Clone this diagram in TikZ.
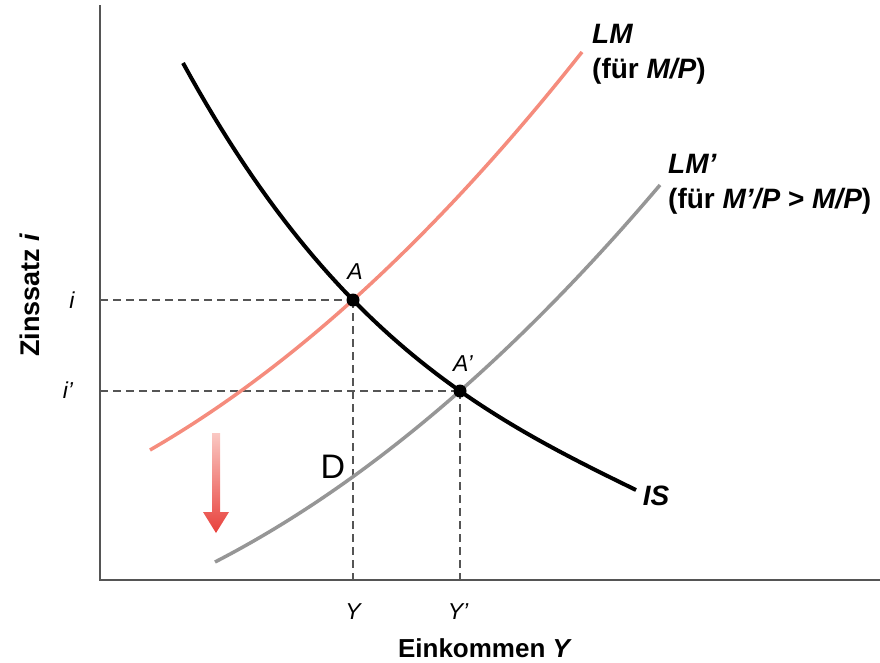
\documentclass[tikz,border=0pt]{standalone}
\usepackage{fontspec}
\setmainfont{Liberation Sans}
\usetikzlibrary{positioning}
\definecolor{lmred}{RGB}{245,140,125}
\definecolor{lmgray}{RGB}{150,150,150}
\definecolor{axisgray}{RGB}{85,85,85}
\definecolor{arrowtop}{RGB}{250,200,195}
\definecolor{arrowred}{RGB}{232,65,60}
\tikzset{
  axisline/.style={axisgray, line width=2pt},
  guide/.style={axisgray, dashed, dash pattern=on 8pt off 5pt, line width=1.4pt},
  pointlabel/.style={font=\fontsize{23}{25}\selectfont\itshape},
  curvelabel/.style={font=\fontsize{28}{35}\selectfont\bfseries, align=left, inner sep=0pt}
}
\begin{document}
\begin{tikzpicture}[x=1pt, y=-1pt]
    \useasboundingbox (0,0) rectangle (880,662);
    % Axes
    \coordinate (O) at (100,580);
    \draw[axisline] (100,5) -- (O) -- (880,580);
    % Equilibrium points
    \coordinate (A) at (353,300);
    \coordinate (A2) at (460,391);
    \foreach \p/\y in {A/300, A2/391}
        \draw[guide] (100,\y) -- (\p);
    \foreach \p/\x in {A/353, A2/460}
        \draw[guide] (\p) -- (\x,580);
    % LM curves
    \draw[lmred, line width=3.5pt] plot[domain=150:582, samples=60]
        (\x, {450-0.73892*(\x-150)-7.9642*((\x-150)/100)*((\x-353)/100)});
    \draw[lmgray, line width=3.5pt] plot[domain=215:660, samples=60]
        (\x, {562-0.69796*(\x-215)-7.4616*((\x-215)/100)*((\x-460)/100)});
    % IS curve
    \draw[black, line width=4pt] plot[domain=183:636, samples=60]
        (\x, {63+1.39412*(\x-183)-19.626*((\x-183)/100)*((\x-353)/100)+2.086*((\x-183)/100)*((\x-353)/100)*((\x-460)/100)});
    \fill (A) circle (6.5) (A2) circle (6.5);
    % Shift of LM
    \shade[top color=arrowtop, bottom color=arrowred] (212,433) -- (220,433) -- (220,512) -- (229,512) -- (216,533) -- (203,512) -- (212,512) -- cycle;
    % Labels
    \node[pointlabel] (lA) at (355,272) {A};
    \node[pointlabel] (lA2) at (463,364) {A'};
    \node[pointlabel] (li) at (72,300) {i};
    \node[pointlabel] (li2) at (68,390) {i'};
    \node[pointlabel] (lY) at (353,612) {Y};
    \node[pointlabel] (lY2) at (458,612) {Y'};
    \node[font=\fontsize{34}{36}\selectfont] (D) at (333,467) {D};
    \node[curvelabel, anchor=north west] (LM) at (592,24) {\itshape LM\\(für \textit{M/P})};
    \node[curvelabel, anchor=north west] (LM2) at (668,154) {\itshape LM’\\(für \textit{M’/P} > \textit{M/P})};
    \node[curvelabel] (IS) at (656,496) {\itshape IS};
    \node[font=\fontsize{26}{28}\selectfont\bfseries] (xlab) at (485,648) {Einkommen \textit{Y}};
    \node[font=\fontsize{27}{30}\selectfont\bfseries, rotate=90] (ylab) at (30,295) {Zinssatz \textit{i}};
\end{tikzpicture}
\end{document}
